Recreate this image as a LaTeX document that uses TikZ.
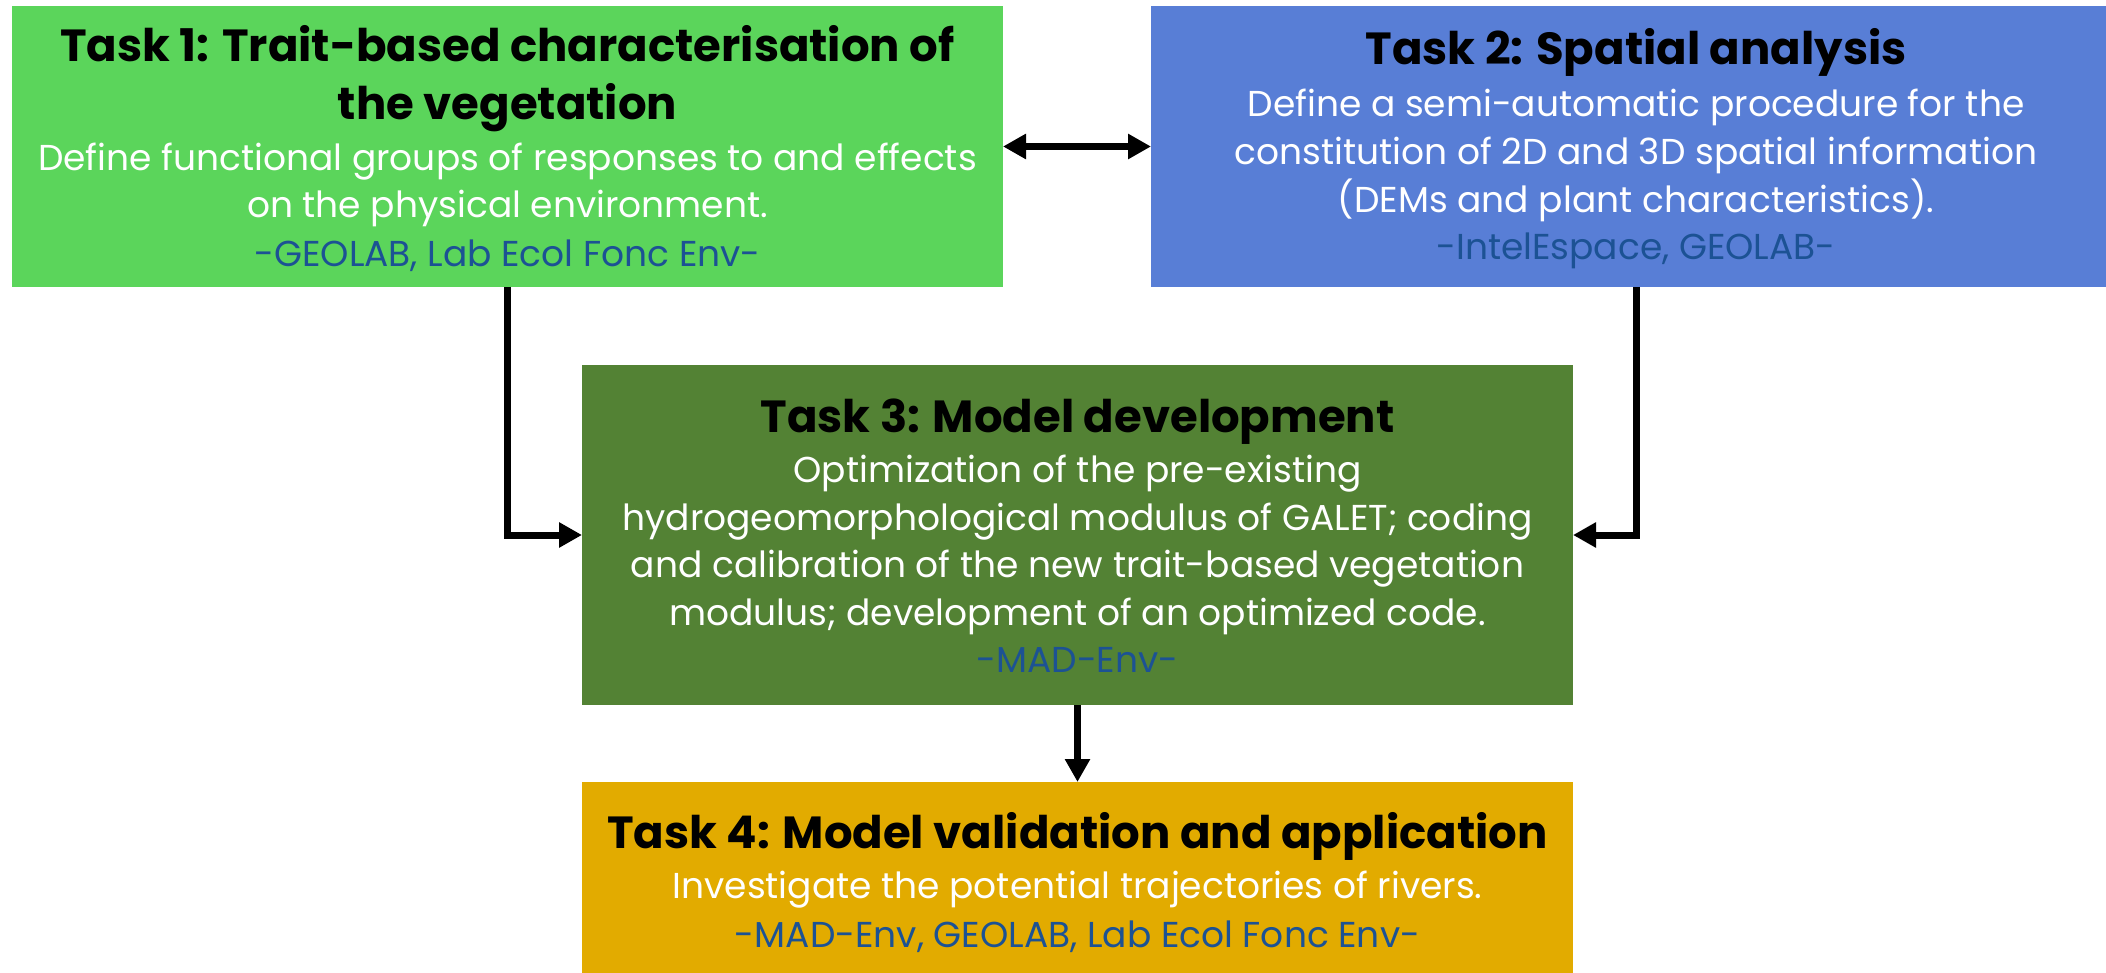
\documentclass[tikz,border=0pt]{standalone}
\usepackage{fontspec}
\setmainfont{Poppins}
\usetikzlibrary{arrows.meta}
\definecolor{gA}{HTML}{5BD55B}
\definecolor{bA}{HTML}{587ED6}
\definecolor{dG}{HTML}{538234}
\definecolor{gold}{HTML}{E2AB00}
\definecolor{auth}{HTML}{1C5294}
\begin{document}
\begin{tikzpicture}[x=1pt,y=-1pt,
  box/.style={draw=none, inner sep=0pt, outer sep=0pt, anchor=north west},
  ttl/.style={anchor=base, inner sep=0pt, font=\fontsize{45pt}{52pt}\selectfont\bfseries, text=black},
  bdy/.style={anchor=base, inner sep=0pt, font=\fontsize{36pt}{44pt}\selectfont, text=white},
  aut/.style={anchor=base, inner sep=0pt, font=\fontsize{36pt}{44pt}\selectfont, text=auth},
  conn/.style={line width=7pt, -{Triangle[length=23pt,width=24pt]}},
  dconn/.style={line width=7pt, {Triangle[length=23pt,width=24pt]}-{Triangle[length=23pt,width=24pt]}}
]
\useasboundingbox (0,0) rectangle (2106,973);
\clip (0,0) rectangle (2106,973);
% boxes
\node[box, fill=gA, minimum width=991pt, minimum height=281pt] (t1) at (12,6) {};
\node[box, fill=bA, minimum width=970pt, minimum height=281pt] (t2) at (1151,6) {};
\node[box, fill=dG, minimum width=991pt, minimum height=340pt] (t3) at (582,365) {};
\node[box, fill=gold, minimum width=991pt, minimum height=203pt] (t4) at (582,782) {};
% task 1 text
\node[ttl] (t1a) at (507.5,62) {Task 1: Trait-based characterisation of};
\node[ttl] (t1b) at (507.5,120) {the vegetation};
\node[bdy] (t1c) at (507.5,171) {Define functional groups of responses to and effects};
\node[bdy] (t1d) at (507.5,218) {on the physical environment.};
\node[aut] (t1e) at (507.5,267) {-GEOLAB, Lab Ecol Fonc Env-};
% task 2 text
\node[ttl] (t2a) at (1636,65) {Task 2: Spatial analysis};
\node[bdy] (t2b) at (1636,117) {Define a semi-automatic procedure for the};
\node[bdy] (t2c) at (1636,165) {constitution of 2D and 3D spatial information};
\node[bdy] (t2d) at (1636,213) {(DEMs and plant characteristics).};
\node[aut] (t2e) at (1636,260) {-IntelEspace, GEOLAB-};
% task 3 text
\node[ttl] (t3a) at (1077.5,432) {Task 3: Model development};
\node[bdy] (t3b) at (1077.5,482) {Optimization of the pre-existing};
\node[bdy] (t3c) at (1077.5,530) {hydrogeomorphological modulus of GALET; coding};
\node[bdy] (t3d) at (1077.5,577) {and calibration of the new trait-based vegetation};
\node[bdy] (t3e) at (1077.5,625) {modulus; development of an optimized code.};
\node[aut] (t3f) at (1077.5,672) {-MAD-Env-};
% task 4 text
\node[ttl] (t4a) at (1077.5,848) {Task 4: Model validation and application};
\node[bdy] (t4b) at (1077.5,898) {Investigate the potential trajectories of rivers.};
\node[aut] (t4c) at (1077.5,947) {-MAD-Env, GEOLAB, Lab Ecol Fonc Env-};
% connectors
\draw[dconn] (t1.east) -- (t2.west);
\draw[conn] (t1.south) |- (t3.west);
\draw[conn] (t2.south) |- (t3.east);
\draw[conn] (t3.south) -- (t4.north);
\end{tikzpicture}
\end{document}
